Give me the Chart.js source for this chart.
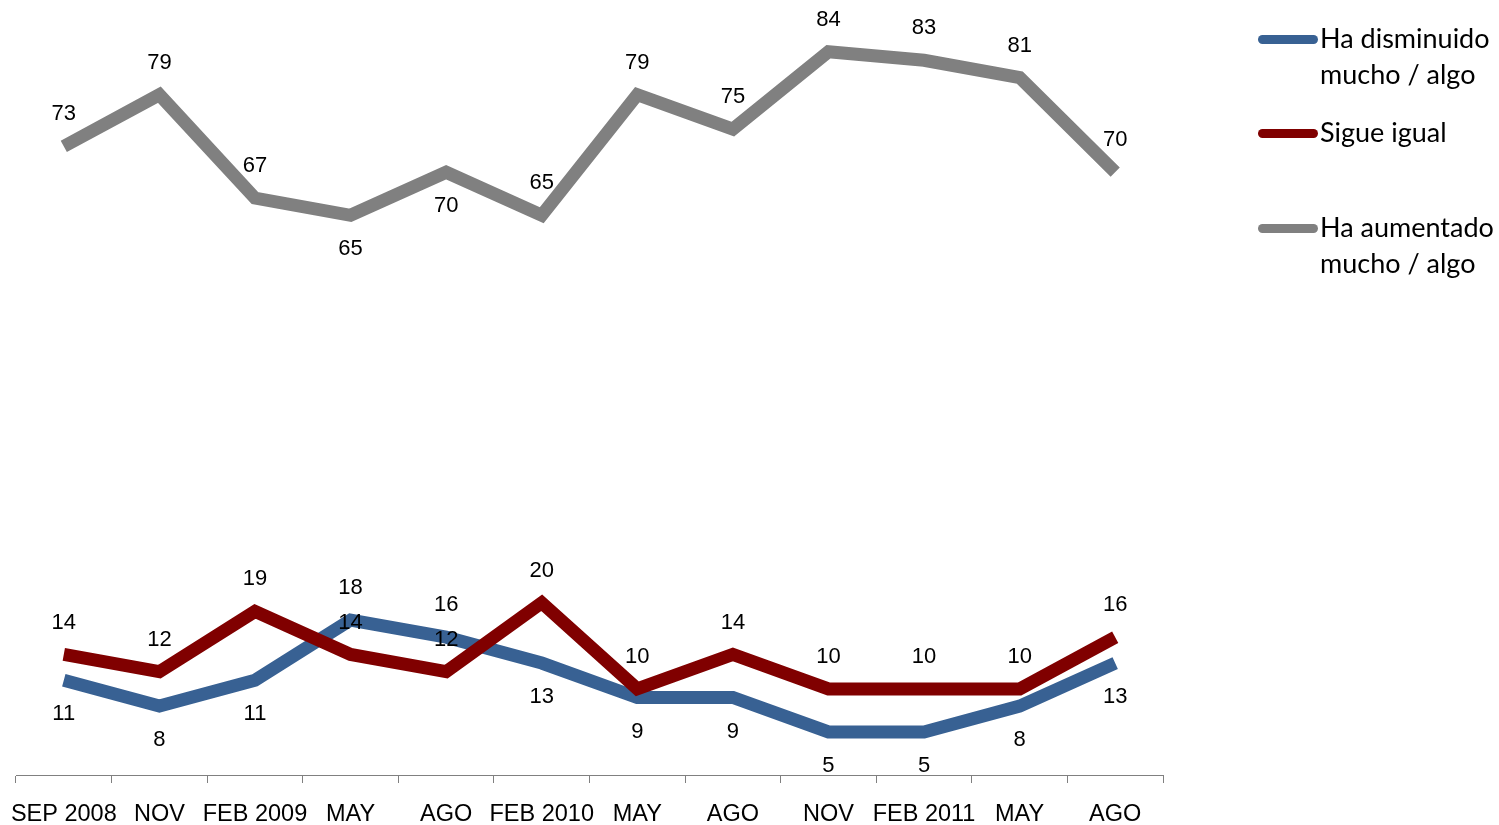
<!DOCTYPE html>
<html>
<head>
<meta charset="utf-8">
<script src="https://cdn.jsdelivr.net/npm/chart.js@4/dist/chart.umd.min.js"></script>
<style>
  body { margin:0; background:#fff; }
  #wrap { position:relative; width:1499px; height:825px; }
  #legend { position:absolute; left:1258px; top:0; font-family:Lato, "Noto Sans", sans-serif; font-size:27px; color:#000; }
  .item { position:absolute; left:0; white-space:nowrap; }
  .swatch { position:absolute; left:0; width:60px; height:9px; border-radius:5px; }
  .txt { position:absolute; left:62px; line-height:36px; }
</style>
</head>
<body>
<div id="wrap">
  <canvas id="c" width="1499" height="825"></canvas>
  <div id="legend"></div>
</div>
<script>
const meses = ['SEP 2008','NOV','FEB 2009','MAY','AGO','FEB 2010','MAY','AGO','NOV','FEB 2011','MAY','AGO'];
const disminuido = [11, 8, 11, 18, 16, 13, 9, 9, 5, 5, 8, 13];
const igual = [14, 12, 19, 14, 12, 20, 10, 14, 10, 10, 10, 16];
const aumentado = [73, 79, 67, 65, 70, 65, 79, 75, 84, 83, 81, 70];
// a = label arriba, b = debajo
const posDism = ['b','b','b','a','a','b','b','b','b','b','b','b'];
const posIgual = ['a','a','a','a','a','a','a','a','a','a','a','a'];
const posAum = ['a','a','a','b','b','a','a','a','a','a','a','a'];

const azul = '#386193', rojo = '#800000', gris = '#808080';

const etiquetas = {
  id:'etiquetas',
  afterDatasetsDraw(chart){
    const ctx = chart.ctx;
    ctx.save();
    ctx.font = '22px "Liberation Sans", Arial, sans-serif';
    ctx.fillStyle = '#000';
    ctx.textAlign = 'center';
    ctx.textBaseline = 'middle';
    chart.data.datasets.forEach((ds, i) => {
      const meta = chart.getDatasetMeta(i);
      meta.data.forEach((pt, j) => {
        const dy = ds.pos[j] === 'a' ? -32 : 34;
        ctx.fillText(ds.data[j], pt.x, pt.y + dy);
      });
    });
    ctx.restore();
  }
};

new Chart(document.getElementById('c'), {
  type:'line',
  data:{
    labels:meses,
    datasets:[
      { label:'Ha disminuido mucho / algo', data:disminuido, pos:posDism, borderColor:azul, order:2 },
      { label:'Sigue igual', data:igual, pos:posIgual, borderColor:rojo, order:1 },
      { label:'Ha aumentado mucho / algo', data:aumentado, pos:posAum, borderColor:gris, order:3 }
    ]
  },
  options:{
    responsive:false,
    animation:false,
    events:[],
    layout:{ padding:{ left:16, right:336, top:0, bottom:0 } },
    elements:{
      line:{ borderWidth:13, tension:0, fill:false },
      point:{ radius:0 }
    },
    plugins:{ legend:{ display:false }, tooltip:{ enabled:false } },
    scales:{
      y:{ display:false, min:0, max:90 },
      x:{
        offset:true,
        grid:{ offset:true, drawOnChartArea:false, tickLength:8, color:'#808080', lineWidth:1 },
        border:{ color:'#808080', width:1 },
        ticks:{ color:'#000', font:{ size:23.5, family:'"Liberation Sans", Arial, sans-serif' }, maxRotation:0, autoSkip:false, padding:17 },
        afterFit(scale){ scale.height = 50; scale.paddingLeft = 0; scale.paddingRight = 0; }
      }
    }
  },
  plugins:[etiquetas]
});

// leyenda
const leyenda = [
  { txt:['Ha disminuido','mucho / algo'], color:azul, y:39 },
  { txt:['Sigue igual'], color:rojo, y:133 },
  { txt:['Ha aumentado','mucho / algo'], color:gris, y:228 }
];
const leg = document.getElementById('legend');
leyenda.forEach(l => {
  const it = document.createElement('div');
  it.className = 'item';
  it.style.top = l.y + 'px';
  it.innerHTML = '<div class="swatch" style="top:-4px;background:' + l.color + '"></div>' +
    '<div class="txt" style="top:-19px">' + l.txt.join('<br>') + '</div>';
  leg.appendChild(it);
});
</script>
</body>
</html>
